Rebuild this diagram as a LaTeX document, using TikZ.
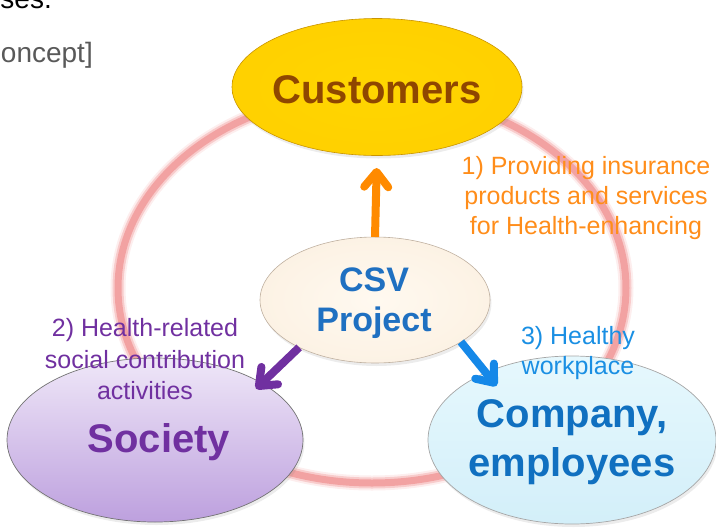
\documentclass[tikz,border=0pt]{standalone}
\usepackage{fontspec}
\setmainfont{Liberation Sans}
\usetikzlibrary{arrows.meta,shapes.geometric,shadows}

% palette
\definecolor{ringpink}{HTML}{F2A2A2}
\definecolor{goldA}{HTML}{FFD600}
\definecolor{goldB}{HTML}{FFCE00}
\definecolor{goldC}{HTML}{EDB200}
\definecolor{goldD}{HTML}{C99400}
\definecolor{creamA}{HTML}{FFF9F0}
\definecolor{creamB}{HTML}{FBEFDF}
\definecolor{creamC}{HTML}{EBDAC6}
\definecolor{creamD}{HTML}{BFB0A0}
\definecolor{lilacTop}{HTML}{EFE7F8}
\definecolor{lilacBot}{HTML}{BDA0DE}
\definecolor{iceTop}{HTML}{E6F8FD}
\definecolor{iceBot}{HTML}{D3EFF9}
\definecolor{custtext}{HTML}{8F4700}
\definecolor{csvblue}{HTML}{1F70C1}
\definecolor{socpurple}{HTML}{7030A0}
\definecolor{compblue}{HTML}{1070C0}
\definecolor{lblorange}{HTML}{FF8D1A}
\definecolor{lblblue}{HTML}{1A8FE3}
\definecolor{arrorange}{HTML}{FF8A00}
\definecolor{arrblue}{HTML}{1588E8}
\definecolor{notegray}{HTML}{595959}

% bevelled fills for the round bubbles
\pgfdeclareradialshading{goldbevel}{\pgfpoint{0bp}{0bp}}{%
  color(0bp)=(goldA); color(36bp)=(goldB); color(45bp)=(goldC); color(50bp)=(goldD)}
\pgfdeclareradialshading{creambevel}{\pgfpoint{0bp}{0bp}}{%
  color(0bp)=(creamA); color(36bp)=(creamB); color(46bp)=(creamC); color(50bp)=(creamD)}

\tikzset{
  bubble/.style={ellipse, inner sep=0pt, outer sep=0pt,
    drop shadow={opacity=0.15, shadow xshift=1.5pt, shadow yshift=-3pt}},
  ringcore/.style={line width=7pt, draw=ringpink},
  ringsoft/.style={line width=11pt, draw=ringpink, draw opacity=0.45},
  ringhalo/.style={line width=15pt, draw=ringpink, draw opacity=0.18},
  fatarrow/.style={line width=8pt, line cap=butt,
    -{Straight Barb[round, length=15pt, width=24pt]}},
  bigtext/.style={font=\fontsize{40}{49}\selectfont\bfseries, align=center},
  smalltext/.style={font=\fontsize{25}{30}\selectfont, align=center},
}

\begin{document}
\begin{tikzpicture}[x=1pt, y=-1pt]
\useasboundingbox (0,0) rectangle (716,528);

% lines of running text beside the figure
\node[anchor=base east, inner sep=0pt, font=\fontsize{28}{34}\selectfont] (note1) at (52,8) {ses.};
\node[anchor=base east, inner sep=0pt, text=notegray, font=\fontsize{28}{34}\selectfont] (note2) at (93,62) {oncept]};

% the loop joining the three stakeholders
\draw[ringhalo] (372,288) ellipse [x radius=254pt, y radius=195pt];
\draw[ringsoft] (372,288) ellipse [x radius=254pt, y radius=195pt];
\draw[ringcore] (372,288) ellipse [x radius=254pt, y radius=195pt];

% stakeholder bubbles
\node[bubble, minimum width=290pt, minimum height=137pt, shading=goldbevel,
      draw=goldD, line width=0.6pt] (cust) at (377,87) {};
\node[bubble, minimum width=296pt, minimum height=164pt,
      top color=lilacTop, bottom color=lilacBot, draw=black!55, line width=0.7pt] (soc) at (155,440) {};
\node[bubble, minimum width=288pt, minimum height=168pt,
      top color=iceTop, bottom color=iceBot, draw=black!35, line width=0.7pt] (comp) at (572,440) {};
\node[bubble, minimum width=230pt, minimum height=126pt, shading=creambevel,
      draw=creamD, line width=0.6pt] (csv) at (375,300) {};

% bubble titles
\node[bigtext, text=custtext, anchor=base, inner sep=0pt] (custT) at (377,103) {Customers};
\node[bigtext, text=socpurple, anchor=base, inner sep=0pt] (socT) at (159,452) {Society};
\node[bigtext, text=compblue, inner sep=0pt] (compT) at (572,442) {Company,\\employees};
\node[font=\fontsize{34}{40}\selectfont\bfseries, align=center, text=csvblue, inner sep=0pt] (csvT) at (374,303.5) {CSV\\Project};

% arrows out of the project
\draw[fatarrow, draw=arrorange, shorten >=12.5pt] (csv.north) -- (cust.south);
\draw[fatarrow, draw=socpurple, shorten >=-8pt] (csv.212) -- (soc.28.5);
\draw[fatarrow, draw=arrblue, shorten >=-17pt] (csv.334) -- (comp.142);

% arrow captions
\node[smalltext, text=lblorange, inner sep=0pt] (lbl1) at (586,198.5)
  {1) Providing insurance\\products and services\\for Health-enhancing};
\node[smalltext, text=socpurple, inner sep=0pt, font=\fontsize{25}{31.5}\selectfont] (lbl2) at (145,359.5)
  {2) Health-related\\social contribution\\activities};
\node[smalltext, text=lblblue, inner sep=0pt] (lbl3) at (578,353.5)
  {3) Healthy\\workplace};
\end{tikzpicture}
\end{document}
